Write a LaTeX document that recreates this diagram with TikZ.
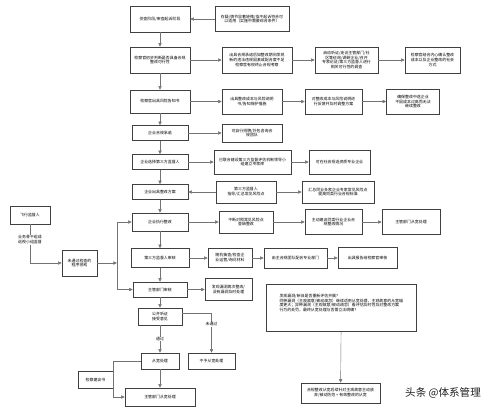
\documentclass[tikz,border=0pt]{standalone}
\usepackage{fontspec}
\setmainfont{Noto Sans CJK SC}
\usetikzlibrary{arrows.meta, positioning}

\begin{document}
\begin{tikzpicture}[
    x=0.5mm, y=-0.5mm,
    box/.style={draw=black!75, line width=0.8pt, align=center, font=\fontsize{5.6}{7}\selectfont, inner sep=1pt, fill=white},
    sz/.style 2 args={minimum width=#1*0.5mm, minimum height=#2*0.5mm},
    arr/.style={-{Triangle[length=1.8mm, width=1.6mm]}, draw=black!55, line width=0.6pt},
    lbl/.style={fill=white, font=\fontsize{5.6}{7}\selectfont, inner sep=1pt, align=center}
]
\useasboundingbox (0,0) rectangle (500,414);

% main column
\node[box, sz={60}{26}] (a1) at (160,19)    {侦查阶段/审查起诉阶段};
\node[box, sz={60}{26}] (a2) at (160,60)    {检察官初步判断是否具备合规\\整改可行性};
\node[box, sz={60}{23}] (a3) at (160,101.5) {检察官出具风险告知书};
\node[box, sz={56}{15}] (a4) at (160,133)   {企业合规承诺};
\node[box, sz={56}{15}] (a5) at (160,162)   {企业选择第三方监督人};
\node[box, sz={56}{15}] (a6) at (160,192)   {企业出具整改方案};
\node[box, sz={56}{18}] (a7) at (160,222)   {企业执行整改};
\node[box, sz={58}{19}] (a8) at (160,258)   {第三方监督人审核};
\node[box, sz={54}{15}] (a9) at (160,289.5) {主管部门审核};
\node[box, sz={44}{17}] (a10) at (160,316.5) {公开听证\\接受意见};
\node[box, sz={38}{16}] (yes) at (160,361)  {从宽处理};
\node[box, sz={47}{16}] (no) at (211.5,361) {不予从宽处理};
\node[box, sz={35}{17}] (advice) at (95.5,379.5) {检察建议书};
\node[box, sz={70}{18}] (final) at (160,397) {主管部门从宽处理};

% side boxes
\node[box, sz={74}{25}] (a1r) at (252,19) {存疑/情节显著轻微/拟不起诉符合可\\以适用（实施中需要综合条件）};
\node[box, sz={70}{26}] (a2b) at (257,60) {出具合规承诺后如整改期间发现\\新的违法违规因素或配合度不足\\检察官有权终止合规考察};
\node[box, sz={63}{26}] (a2c) at (346.5,60) {启动听证/走访主管部门/社\\区等征询/调研企业/召开\\专家论证/第三方监督人进行\\相关可行性的调查};
\node[box, sz={55}{26}] (a2d) at (432.5,60) {检察官结合内心确认整改\\成本以及企业整改的社会\\方式};
\node[box, sz={60}{25}] (a3b) at (252,101.5) {出具整改成本与风险说明\\书/告知保护措施};
\node[box, sz={57}{25}] (a3c) at (333.5,101.5) {对整改成本与风险说明进\\行反馈并及时调整方案};
\node[box, sz={53}{25}] (a3d) at (413,101.5) {确保整改中途企业\\不因成本过高而无法\\继续整改};
\node[box, sz={60}{18}] (a4b) at (252,133) {可自行招聘/外包咨询合\\规团队};
\node[box, sz={77}{24}] (a5b) at (252.5,162) {已联合建设第三方监督评估机制领导小\\组建立专家库};
\node[box, sz={61}{24}] (a5c) at (339.5,162) {可在社会招选资质专业企业};
\node[box, sz={60}{22}] (a6b) at (246,192) {第三方监督人\\指导/汇总常见风险点};
\node[box, sz={72}{22}] (a6c) at (338,192) {汇总同业多家企业专家常见风险点\\提高同类行业合规标准};
\node[box, sz={54}{22}] (a7b) at (246,222) {不断对照常见风险点\\查缺整改};
\node[box, sz={57}{25}] (a7c) at (333.5,222) {主动建议同类行业企业合\\规整改情况};
\node[box, sz={58}{25}] (a7d) at (411,222) {主管部门从宽处理};
\node[box, sz={44}{19}] (a8b) at (230,258) {随机抽查/检查企\\业运营/询问材料};
\node[box, sz={63}{20}] (a8c) at (295.5,258) {由主合规团队配合专业部门};
\node[box, sz={59}{21}] (a8d) at (367.5,258) {出具报告给检察官审核};
\node[box, sz={47}{22}] (a9b) at (228.5,289.5) {发现漏洞再次整改/\\没有漏洞及时处理};

\node[box, sz={150}{47}, align=left, anchor=north west, inner sep=3pt] (big) at (266,284) {发现漏洞/新旧是否重新评估开展？\\同种漏洞（主观故意/被动疏忽）继续适用从宽处理，主观故意的从宽幅\\度更大；异种漏洞（主观故意/被动疏忽）看评估及时性及对整改方案\\行为的处罚，最终从宽处理与否需立法明确？\\~\\~};
\node[box, sz={79}{20}] (merge) at (340.5,393) {合规整改从宽后续针对主观故意主动放\\弃/被动防范 + 有效整改的从宽};

% left side
\node[box, sz={40}{18}] (fly) at (30,215) {飞行监督人};
\node[box, sz={35}{26}] (check) at (79.5,263) {未通过检查的\\程序惩戒};
\coordinate (bus) at (117,263);

\node[font=\fontsize{15}{15}\selectfont, text=black!88] (wm) at (443,393) {头条 @体系管理};

% connectors
\draw[arr] (a1r) -- (a1);
\draw[arr] (a1) -- (a2);
\draw[arr] (a2) -- (a3);
\draw[arr] (a3) -- (a4);
\draw[arr] (a4) -- (a5);
\draw[arr] (a5) -- (a6);
\draw[arr] (a6) -- (a7);
\draw[arr] (a7) -- (a8);
\draw[arr] (a8) -- (a9);
\draw[arr] (a9) -- (a10);
\draw[arr] (a10) -- node[lbl] {通过} (yes);
\draw[arr] ([yshift=1.5mm]a10.east) -| node[lbl, pos=0.64] {未通过} (no.north);
\draw[arr] (yes) -- (final);
\draw[arr] (yes.west) -- (yes.west -| advice.east) -- (advice.east |- final) -- (final.west);

\draw[arr] (a2) -- (a2b);
\draw[arr] (a2b) -- (a2c);
\draw[arr] (a2c) -- (a2d);
\draw[arr] (a3) -- (a3b);
\draw[arr] (a3b) -- (a3c);
\draw[arr] (a3c) -- (a3d);
\draw[arr] (a4) -- (a4b);
\draw[arr] (a5) -- (a5b);
\draw[arr] (a5b) -- (a5c);
\draw[arr] (a6b) -- (a6);
\draw[arr] (a6b) -- (a6c);
\draw[arr] (a7) -- (a7b);
\draw[arr] (a7b) -- (a7c);
\draw[arr] (a7c) -- (a7d);
\draw[arr] (a8) -- (a8b);
\draw[arr] (a8b) -- (a8c);
\draw[arr] (a8c) -- (a8d);
\draw[arr] (a9) -- (a9b);
\draw[arr] (big) -- (merge);

\draw[arr] (fly.south) |- node[lbl, pos=0.2] {业务骨干组成\\巡视小组监督} (check.west);
\draw[arr] (check) -- (bus);
\draw[arr] (bus) |- (a7);
\draw[arr] (bus) |- (a9);
\end{tikzpicture}
\end{document}
